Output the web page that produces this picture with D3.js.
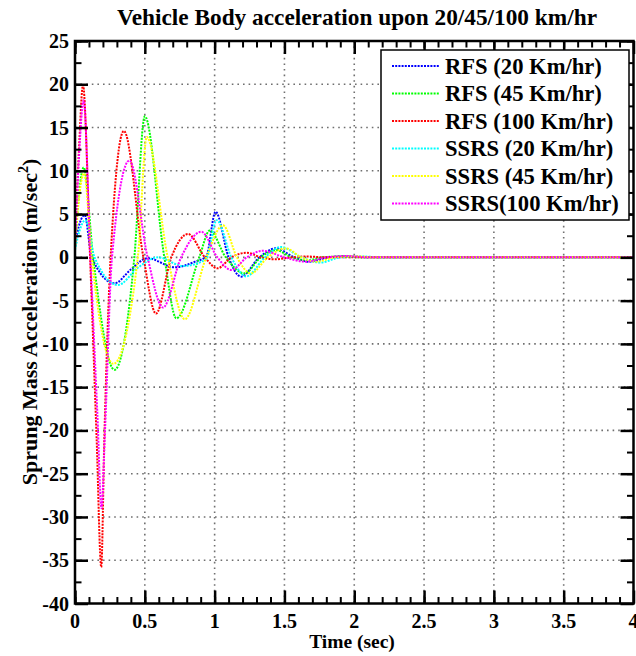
<!DOCTYPE html>
<html>
<head>
<meta charset="utf-8">
<script src="https://cdn.jsdelivr.net/npm/d3@7/dist/d3.min.js"></script>
<style>
  html, body { margin: 0; padding: 0; background: #fff; }
  svg text { font-family: "Liberation Serif", "Times New Roman", serif; font-weight: bold; fill: #000; }
</style>
</head>
<body>
<svg id="chart" width="636" height="656"></svg>
<script>
// Series names and colours, in drawing order
const seriesNames = ["RFS (20 Km/hr)", "RFS (45 Km/hr)", "RFS (100 Km/hr)",
                     "SSRS (20 Km/hr)", "SSRS (45 Km/hr)", "SSRS(100 Km/hr)"];
const seriesColors = ["#0000ff", "#00ff00", "#ff0000", "#00ffff", "#ffff00", "#ff00ff"];

// Sprung mass acceleration samples [time (s), acceleration (m/s^2)]
const rfs20 = [[0,1.5],[0.035,4.0],[0.069,4.9],[0.12,0],[0.283,-3.0],[0.4,-1.4],[0.52,-0.1],[0.714,-1.15],
  [0.86,-0.5],[0.94,0.1],[1.007,5.27],[1.1,0],[1.19,-2.23],[1.32,0],[1.44,1.04],[1.57,0],[1.68,-0.5],
  [1.82,0],[1.95,0.12],[2.1,0],[4,0]];
const rfs45 = [[0,1],[0.03,7.5],[0.062,10.4],[0.13,0],[0.283,-13.0],[0.425,0],[0.5,16.3],[0.64,0],[0.726,-7.05],
  [0.89,0],[0.965,3.1],[1.08,0],[1.214,-1.85],[1.33,0],[1.44,0.84],[1.55,0],[1.65,-0.35],[1.78,0],
  [1.9,0.1],[2.05,0],[4,0]];
const rfs100 = [[0,1],[0.03,13],[0.057,19.9],[0.108,0],[0.155,-21],[0.188,-35.8],[0.21,-21],[0.255,0],
  [0.35,14.6],[0.49,0],[0.58,-6.5],[0.69,0],[0.81,2.7],[0.93,0],[1.02,-1.27],[1.12,0],[1.23,0.53],
  [1.33,0],[1.43,-0.23],[1.55,0],[1.65,0.1],[1.8,0],[4,0]];
const ssrs20 = [[0,0.85],[0.035,3.2],[0.075,4.3],[0.14,0],[0.307,-3.2],[0.45,-1.2],[0.595,0],[0.774,-1.0],
  [0.94,-0.2],[1.015,4.3],[1.12,0],[1.226,-2.2],[1.36,0],[1.476,1.2],[1.62,0],[1.76,-0.6],[1.9,0],
  [2.05,0.1],[2.2,0],[4,0]];
const ssrs45 = [[0,1],[0.03,7],[0.065,9.7],[0.12,0],[0.275,-12.3],[0.45,0],[0.514,13.9],[0.664,0],
  [0.786,-7.15],[0.94,0],[1.06,3.7],[1.16,0],[1.26,-1.85],[1.38,0],[1.51,1.04],[1.62,0],[1.73,-0.5],
  [1.86,0],[2.0,0.12],[2.15,0],[4,0]];
const ssrs100 = [[0,1],[0.03,12],[0.062,18.15],[0.11,0],[0.16,-18],[0.19,-29],[0.215,-20],[0.265,0],
  [0.39,11.2],[0.52,0],[0.63,-5.8],[0.76,0],[0.905,2.95],[1.02,0],[1.12,-1.47],[1.23,0],[1.345,0.76],
  [1.5,0],[1.655,-0.5],[1.8,0],[1.95,0.15],[2.1,0],[4,0]];
const seriesData = [rfs20, rfs45, rfs100, ssrs20, ssrs45, ssrs100];

// Axis ticks
const xTicks = [0, 0.5, 1, 1.5, 2, 2.5, 3, 3.5, 4];
const xMinorTicks = d3.range(0, 40.5, 1).map(d => d / 10);
const yTicks = [25, 20, 15, 10, 5, 0, -5, -10, -15, -20, -25, -30, -35, -40];
const yMinorTicks = d3.range(-40, 25.1, 2.5);

const titleText = "Vehicle Body acceleration upon 20/45/100 km/hr";
const xLabel = "Time (sec)";

const svg = d3.select("#chart");
const plotL = 75, plotR = 633.5, plotT = 41, plotB = 603.5;
const x = d3.scaleLinear().domain([0, 4]).range([plotL, plotR]);
const y = d3.scaleLinear().domain([-40, 25]).range([plotB, plotT]);

svg.append("defs").append("clipPath").attr("id", "plotClip")
  .append("rect").attr("x", plotL).attr("y", plotT).attr("width", plotR - plotL).attr("height", plotB - plotT);

// Dotted grid at the major ticks
const grid = svg.append("g").attr("stroke", "#707070").attr("stroke-width", 1.6)
  .attr("stroke-dasharray", "1.6,4");
grid.selectAll("line.gx").data(xTicks.filter(d => d > 0 && d < 4)).join("line")
  .attr("x1", d => x(d)).attr("x2", d => x(d)).attr("y1", plotT).attr("y2", plotB);
grid.selectAll("line.gy").data(yTicks.filter(d => d > -40 && d < 25)).join("line")
  .attr("y1", d => y(d)).attr("y2", d => y(d)).attr("x1", plotL).attr("x2", plotR);

// Curves
const line = d3.line().x(d => x(d[0])).y(d => y(d[1])).curve(d3.curveMonotoneX);
const curves = svg.append("g").attr("clip-path", "url(#plotClip)");
seriesData.forEach((s, i) => {
  curves.append("path").attr("d", line(s)).attr("fill", "none")
    .attr("stroke", seriesColors[i]).attr("stroke-width", 2).attr("stroke-dasharray", "2,1.2");
});

// Axes: box with inward ticks on all four sides
function styleAxis(g, w) {
  g.select(".domain").remove();
  g.selectAll(".tick line").attr("stroke", "#000").attr("stroke-width", w);
}
const majorLen = 13, minorLen = 6.5;
const axes = svg.append("g");
[[d3.axisBottom, plotB], [d3.axisTop, plotT]].forEach(([ax, pos]) => {
  axes.append("g").attr("transform", `translate(0,${pos})`)
    .call(ax(x).tickValues(xMinorTicks).tickSize(-minorLen).tickFormat(""))
    .call(g => styleAxis(g, 2));
  axes.append("g").attr("transform", `translate(0,${pos})`)
    .call(ax(x).tickValues(xTicks).tickSize(-majorLen).tickFormat(""))
    .call(g => styleAxis(g, 2.5));
});
[[d3.axisLeft, plotL], [d3.axisRight, plotR]].forEach(([ax, pos]) => {
  axes.append("g").attr("transform", `translate(${pos},0)`)
    .call(ax(y).tickValues(yMinorTicks).tickSize(-minorLen).tickFormat(""))
    .call(g => styleAxis(g, 2));
  axes.append("g").attr("transform", `translate(${pos},0)`)
    .call(ax(y).tickValues(yTicks).tickSize(-majorLen).tickFormat(""))
    .call(g => styleAxis(g, 2.5));
});
axes.append("rect").attr("x", plotL).attr("y", plotT).attr("width", plotR - plotL).attr("height", plotB - plotT)
  .attr("fill", "none").attr("stroke", "#000").attr("stroke-width", 2.5);

// Tick labels (plain hyphen for negatives)
svg.append("g").selectAll("text").data(xTicks).join("text")
  .attr("x", d => x(d)).attr("y", 628).attr("text-anchor", "middle").attr("font-size", 20)
  .text(d => String(d));
svg.append("g").selectAll("text").data(yTicks).join("text")
  .attr("x", 69).attr("y", d => y(d) + 7).attr("text-anchor", "end").attr("font-size", 20)
  .text(d => String(d));

// Axis titles
svg.append("text").attr("x", 352).attr("y", 648).attr("text-anchor", "middle").attr("font-size", 19.5)
  .text(xLabel);
const yl = svg.append("text").attr("transform", "translate(37,322) rotate(-90)")
  .attr("text-anchor", "middle").attr("font-size", 22);
yl.append("tspan").text("Sprung Mass Acceleration (m/sec");
yl.append("tspan").attr("font-size", 14).attr("dy", -9).text("2");
yl.append("tspan").attr("dy", 9).text(")");

// Title
svg.append("text").attr("x", 357).attr("y", 25).attr("text-anchor", "middle").attr("font-size", 23.3)
  .text(titleText);

// Legend
const legend = svg.append("g");
legend.append("rect").attr("x", 381).attr("y", 50).attr("width", 248).attr("height", 170)
  .attr("fill", "#fff").attr("stroke", "#000").attr("stroke-width", 1.5);
seriesNames.forEach((name, i) => {
  const cy = 66 + i * 27.5;
  legend.append("line").attr("x1", 392).attr("x2", 439).attr("y1", cy).attr("y2", cy)
    .attr("stroke", seriesColors[i]).attr("stroke-width", 2).attr("stroke-dasharray", "2,1.2");
  legend.append("text").attr("x", 445).attr("y", cy + 7.5).attr("font-size", 22.6).text(name);
});
</script>
</body>
</html>
